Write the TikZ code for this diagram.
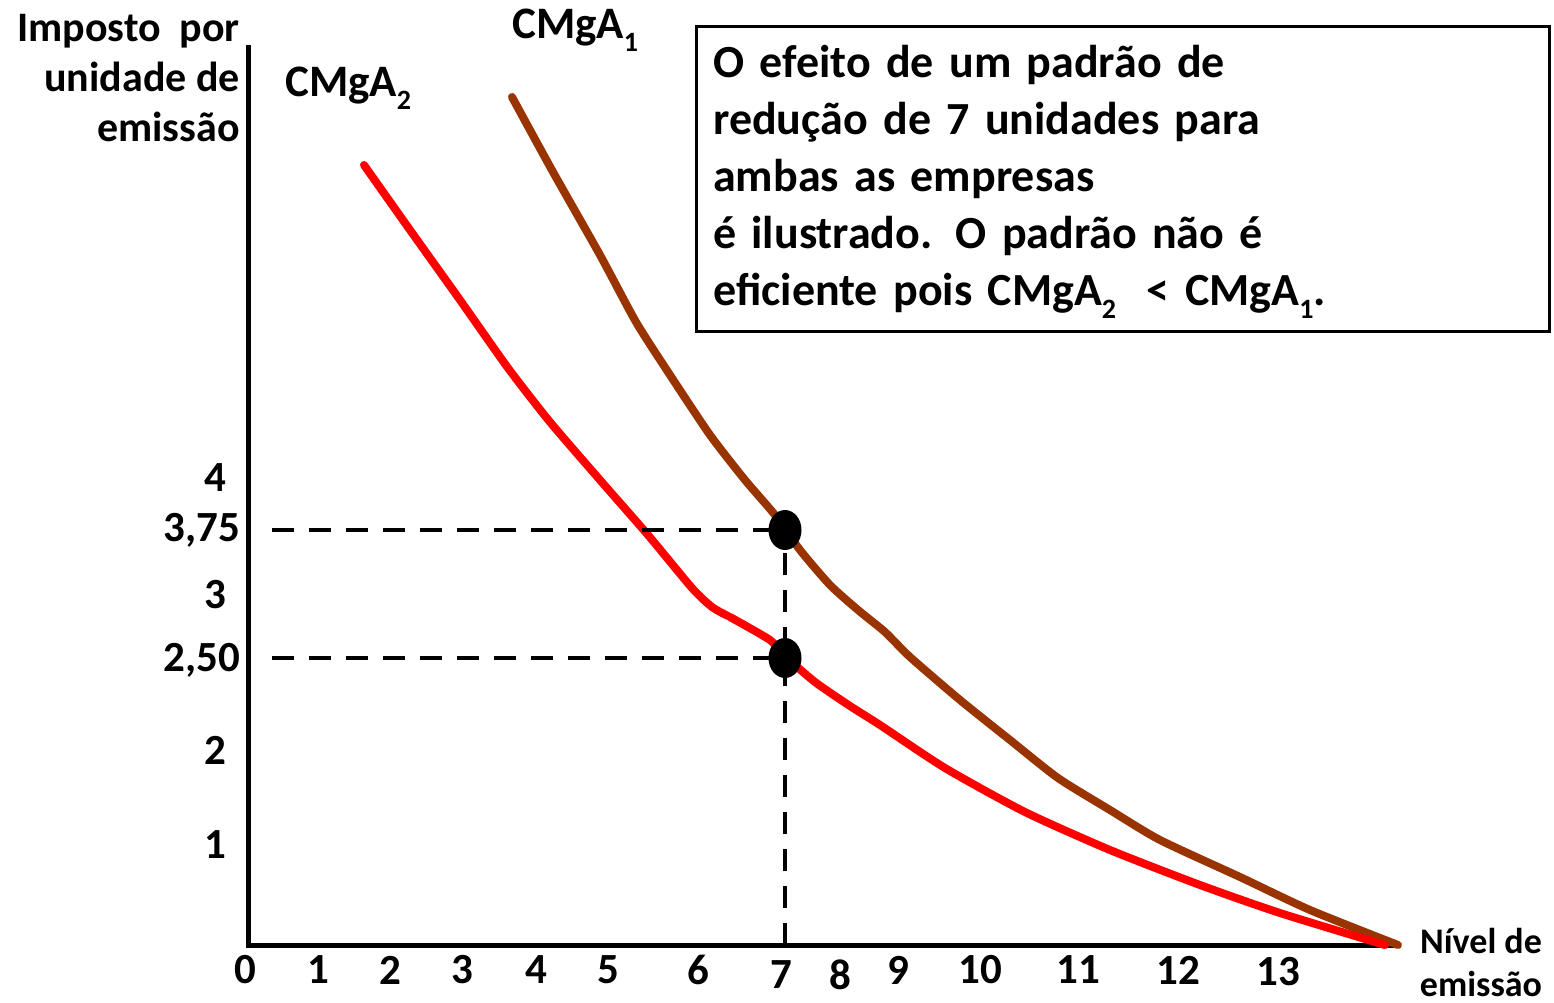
\documentclass[tikz,border=0pt]{standalone}
\usepackage{fontspec}
\usetikzlibrary{shapes.geometric}
\setmainfont{Carlito}
\definecolor{brownc}{HTML}{993300}
\definecolor{redc}{HTML}{FF0000}
\newcommand{\sbs}[1]{\raisebox{-0.28em}{\fontsize{28}{28}\selectfont #1}}
\begin{document}
\begin{tikzpicture}[x=1pt,y=-1pt,
  lbl/.style={font=\fontsize{42}{50}\selectfont\bfseries, inner sep=0pt},
  clbl/.style={font=\fontsize{45}{50}\selectfont\bfseries, inner sep=0pt},
  tick/.style={font=\fontsize{43}{44}\selectfont\bfseries, inner sep=0pt},
  curve/.style={line width=8pt, line cap=round, line join=round},
  guide/.style={line width=4pt, dash pattern=on 22pt off 15pt},
  dot/.style={ellipse, fill=black, minimum width=33pt, minimum height=40pt, inner sep=0pt}]
\useasboundingbox (0,0) rectangle (1554,1003);
% axes
\coordinate (O) at (248,945);
\coordinate (ytop) at (248,45);
\coordinate (xend) at (1400,945);
\draw[line width=5pt] (ytop) -- (O) -- (xend);
% axis titles
\node[lbl, align=right, anchor=east] (ytitle) at (240,78) {Imposto~ por\\unidade de\\emissão};
\node[font=\fontsize{36}{43}\selectfont\bfseries, inner sep=0pt, align=center] (xtitle) at (1481,962) {Nível de\\emissão};
% x ticks
\foreach \v/\x/\y in {0/245/970,1/318/970,2/390/970,3/462/970,4/536/970,5/608/970,6/698/970,7/781/975,8/840/975,9/898/970,10/980/970,11/1078/970,12/1178/970,13/1278/972}
  \node[tick] (xt\v) at (\x,\y) {\v};
% y ticks
\node[tick] (yt4) at (215,478) {4};
\node[tick, anchor=east] (yt375) at (240,530) {3,75};
\node[tick] (yt3) at (215,595) {3};
\node[tick, anchor=east] (yt250) at (240,660) {2,50};
\node[tick] (yt2) at (215,750) {2};
\node[tick] (yt1) at (215,845) {1};
% curves
\draw[curve, brownc] plot[smooth, tension=0.4] coordinates {(512,97) (553,172) (600,255) (636,322) (670,375) (710,435) (745,480) (775,515) (800,550) (830,585) (858,610) (885,632) (910,657) (960,700) (1010,740) (1058,778) (1110,810) (1160,840) (1240,877) (1310,910) (1398,945)};
\draw[curve, redc] plot[smooth, tension=0.4] coordinates {(364,165) (410,230) (460,300) (508,368) (550,422) (600,480) (648,535) (692,588) (712,607) (728,616)};
\draw[curve, redc] plot[smooth, tension=0.4] coordinates {(730,617) (770,640) (785,656) (815,682) (850,706) (880,725) (945,768) (1025,812) (1110,850) (1200,885) (1280,913) (1385,945)};
% dots
\node[dot] (d1) at (785,530) {};
\node[dot] (d2) at (785,658) {};
\coordinate (h1) at (272,530);
\coordinate (h2) at (272,658);
\coordinate (vb) at (785,945);
\draw[guide] (h1) -- (d1.center);
\draw[guide] (h2) -- (d2.center);
\draw[guide] (vb) -- (d1.center);
% curve labels
\node[clbl, anchor=west] (c1) at (512,30) {CMgA\sbs{1}};
\node[clbl, anchor=west] (c2) at (285,88) {CMgA\sbs{2}};
% text box
\node[draw, line width=3pt, anchor=north west, minimum width=853pt, minimum height=305pt, inner sep=0pt] (box) at (695,25) {};
\node[anchor=west, text width=820pt, align=left, inner sep=0pt,
  font=\fontsize{46}{57}\selectfont\bfseries] (boxtext) at (713,182)
  {O efeito de um padrão de\\redução de 7 unidades para\\ambas as empresas\\é ilustrado. O padrão não é\\eficiente pois CMgA\sbs{2}~ < CMgA\sbs{1}.};
\end{tikzpicture}
\end{document}
